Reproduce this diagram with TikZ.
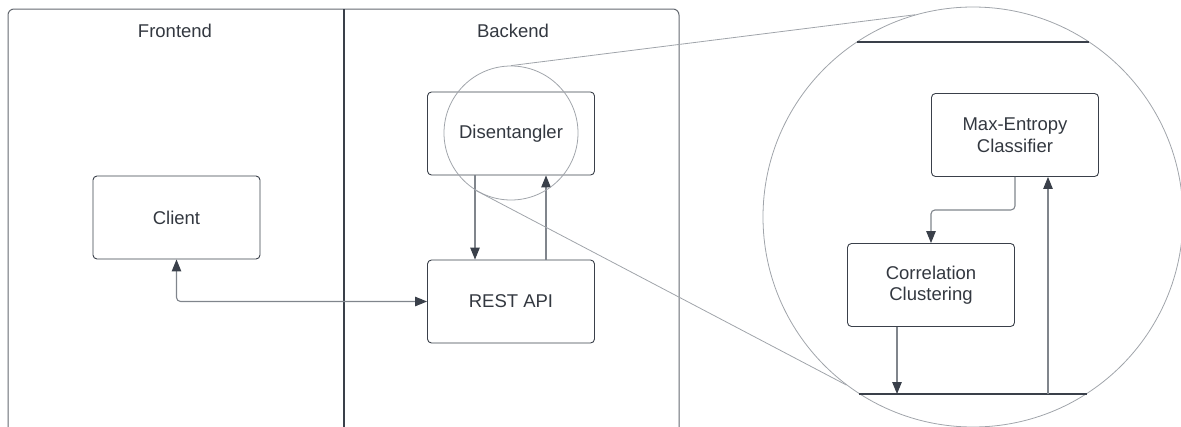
\documentclass[tikz,border=0pt]{standalone}
\usepackage{fontspec}
\setmainfont{Liberation Sans}
\usetikzlibrary{arrows.meta, positioning}
\definecolor{inkdark}{RGB}{58, 64, 74}
\definecolor{wiregray}{RGB}{128, 133, 140}
\definecolor{framegray}{RGB}{100, 105, 112}
\definecolor{lensgray}{RGB}{160, 164, 170}
\definecolor{textgray}{RGB}{51, 56, 64}

\begin{document}
\begin{tikzpicture}[x=1pt, y=-1pt,
  >={Triangle[length=12pt, width=9.5pt, color=inkdark]},
  compbox/.style={draw=inkdark, rounded corners=4pt, minimum width=167pt, minimum height=83pt, align=center, text=textgray, line width=0.9pt, font=\fontsize{18.5}{21.5}\selectfont},
  lanetitle/.style={text=textgray, font=\fontsize{18.5}{21.5}\selectfont},
  flow/.style={wiregray, line width=1.1pt, ->},
  lens/.style={draw=lensgray, circle, line width=0.8pt, inner sep=0pt}
]
  \useasboundingbox (0,0) rectangle (1181,426);

  % Lanes
  \draw[framegray, line width=1pt, rounded corners=6pt] (8,440) -- (8,9) -- (679,9) -- (679,440);
  \draw[inkdark, line width=2pt] (343.5,9) -- (343.5,440);
  \node[lanetitle] (front) at (175,31) {Frontend};
  \node[lanetitle] (back) at (513,31) {Backend};

  % Components
  \node[compbox] (client) at (176.5,217.5) {Client};
  \node[compbox] (disent) at (511,133.5) {Disentangler};
  \node[compbox] (rest) at (511,301.5) {REST API};

  \draw[flow] ([xshift=-36pt]disent.south) -- ([xshift=-36pt]rest.north);
  \draw[flow] ([xshift=35pt]rest.north) -- ([xshift=35pt]disent.south);
  \draw[flow, <->, rounded corners=4pt] (client.south) |- (rest.west);

  % Zoom into the Disentangler
  \node[lens, minimum size=134pt] (spot) at (511,133) {};
  \node[lens, minimum size=420pt] (zoom) at (973,217) {};
  \draw[lensgray, line width=0.8pt] (spot.90) -- (zoom.106);
  \draw[lensgray, line width=0.8pt] (spot.238) -- (zoom.233);

  \coordinate (ztop) at (973,42);
  \coordinate (zbot) at (973,394);
  \draw[inkdark, line width=1.8pt] (857,42) -- (1089,42);
  \draw[inkdark, line width=1.8pt] (859,394) -- (1087,394);

  \node[compbox] (maxent) at (1015,135) {Max-Entropy\\Classifier};
  \node[compbox] (corr) at (931,285) {Correlation\\Clustering};

  \draw[flow, rounded corners=4pt] (maxent.south) -- ++(0,33) -| (corr.north);
  \draw[flow] ([xshift=-34pt]corr.south) -- ([xshift=-34pt]corr.south |- zbot);
  \draw[flow] ([xshift=33pt]maxent.south |- zbot) -- ([xshift=33pt]maxent.south);
\end{tikzpicture}
\end{document}
